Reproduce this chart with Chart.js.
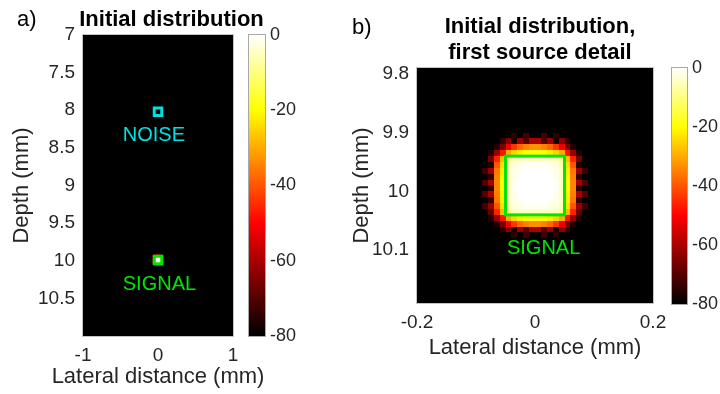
<!DOCTYPE html>
<html><head><meta charset="utf-8">
<script src="https://cdn.jsdelivr.net/npm/chart.js@4/dist/chart.umd.min.js"></script>
<style>
html,body{margin:0;padding:0;background:#fff;width:720px;height:394px;overflow:hidden;position:relative;font-family:"Liberation Sans",Arial,sans-serif;}
canvas{position:absolute;top:0;}
.t{position:absolute;color:#000;font-weight:bold;font-size:22px;line-height:26px;text-align:center;white-space:nowrap;}
.l{position:absolute;color:#000;font-size:22px;line-height:26px;white-space:nowrap;}
</style></head><body>
<canvas id="ca" width="300" height="394" style="left:0px"></canvas>
<canvas id="cba" width="80" height="394" style="left:240px"></canvas>
<canvas id="cb" width="420" height="394" style="left:300px"></canvas>
<canvas id="cbb" width="60" height="394" style="left:660px"></canvas>
<div class="l" style="left:17px;top:6px">a)</div>
<div class="t" style="left:0px;width:343px;top:6px">Initial distribution</div>
<div class="l" style="left:352px;top:14px">b)</div>
<div class="t" style="left:360px;width:360px;top:13px">Initial distribution,<br>first source detail</div>
<script>
// ---------------- data ----------------
const floorDb = -80;           // colour-scale floor (background value)
const topDb = 0;
const cellSize = 0.01;         // mm
const patchX = [-0.095,-0.085,-0.075,-0.065,-0.055,-0.045,-0.035,-0.025,-0.015,-0.005,0.005,0.015,0.025,0.035,0.045,0.055,0.065,0.075,0.085,0.095];
const patchY = [9.895,9.905,9.915,9.925,9.935,9.945,9.955,9.965,9.975,9.985,9.995,10.005,10.015,10.025,10.035,10.045,10.055,10.065,10.075,10.085];
const patchDb = [
 [-80,-80,-80,-80,-80,-80,-80,-80,-80,-80,-80,-80,-80,-80,-80,-80,-80,-80,-80,-80],
 [-80,-80,-80,-80,-80,-80,-74,-80,-72,-80,-80,-72,-80,-74,-80,-80,-80,-80,-80,-80],
 [-80,-80,-80,-80,-74,-64,-78,-62,-70,-60,-60,-70,-62,-78,-64,-74,-80,-80,-80,-80],
 [-80,-80,-80,-76,-66,-52,-44,-38,-35,-33,-33,-35,-38,-44,-52,-66,-76,-80,-80,-80],
 [-80,-80,-76,-62,-48,-30,-25,-22,-20,-19,-19,-20,-22,-25,-30,-48,-62,-76,-80,-80],
 [-80,-80,-66,-46,-28,-9,-6,-5,-5,-5,-5,-5,-5,-6,-9,-28,-46,-66,-80,-80],
 [-80,-80,-76,-40,-24,-6,-3,-2,-1,-1,-1,-1,-2,-3,-6,-24,-40,-76,-80,-80],
 [-80,-72,-62,-36,-22,-5,-2,-1,0,0,0,0,-1,-2,-5,-22,-36,-62,-72,-80],
 [-80,-80,-74,-35,-21,-5,-2,0,0,0,0,0,0,-2,-5,-21,-35,-74,-80,-80],
 [-80,-70,-60,-34,-20,-5,-1,0,0,0,0,0,0,-1,-5,-20,-34,-60,-70,-80],
 [-80,-80,-74,-34,-20,-5,-1,0,0,0,0,0,0,-1,-5,-20,-34,-74,-80,-80],
 [-80,-70,-60,-35,-21,-5,-2,0,0,0,0,0,0,-2,-5,-21,-35,-60,-70,-80],
 [-80,-80,-74,-36,-22,-5,-2,-1,0,0,0,0,-1,-2,-5,-22,-36,-74,-80,-80],
 [-80,-72,-62,-40,-24,-6,-3,-2,-1,-1,-1,-1,-2,-3,-6,-24,-40,-62,-72,-80],
 [-80,-80,-68,-46,-28,-9,-6,-5,-5,-5,-5,-5,-5,-6,-9,-28,-46,-68,-80,-80],
 [-80,-80,-76,-62,-48,-30,-25,-22,-20,-19,-19,-20,-22,-25,-30,-48,-62,-76,-80,-80],
 [-80,-80,-80,-76,-66,-52,-44,-38,-35,-33,-33,-35,-38,-44,-52,-66,-76,-80,-80,-80],
 [-80,-80,-80,-80,-74,-64,-78,-62,-70,-60,-60,-70,-62,-78,-64,-74,-80,-80,-80,-80],
 [-80,-80,-80,-80,-80,-80,-74,-80,-72,-80,-80,-72,-80,-74,-80,-80,-80,-80,-80,-80],
 [-80,-80,-80,-80,-80,-80,-80,-80,-80,-80,-80,-80,-80,-80,-80,-80,-80,-80,-80,-80]
];
const signalBox = [-0.05, 0.05, 9.94, 10.04];   // xmin, xmax, ymin, ymax (mm)
const noiseBox  = [-0.05, 0.05, 7.97, 8.07];
const labelTexts = ['NOISE', 'SIGNAL'];
const labelPosA = [[-0.47, 8.33], [-0.47, 10.31]];
const labelPosB = [[-0.0475, 10.098]];
const xRangeA = [-1, 1], yRangeA = [7, 11];
const xRangeB = [-0.2, 0.2], yRangeB = [9.79, 10.19];
const xTicksA = [-1, 0, 1];
const yTicksA = [7, 7.5, 8, 8.5, 9, 9.5, 10, 10.5];
const xTicksB = [-0.2, 0, 0.2];
const yTicksB = [9.8, 9.9, 10, 10.1];
const cbTicks = [0, -20, -40, -60, -80];
const xTitle = 'Lateral distance (mm)';
const yTitle = 'Depth (mm)';

// ---------------- styling / helpers ----------------
const FAM = '"Liberation Sans", Arial, Helvetica, sans-serif';
Chart.defaults.font.family = FAM;
const TXT = '#262626';
const GREEN = '#00e600', CYAN = '#00e0e0';

function hot(db){
  let t = (db - floorDb) / (topDb - floorDb);
  t = Math.max(0, Math.min(1, t));
  const r = Math.min(1, t / 0.375);
  const g = Math.max(0, Math.min(1, (t - 0.375) / 0.375));
  const b = Math.max(0, Math.min(1, (t - 0.75) / 0.25));
  return 'rgb(' + Math.round(r*255) + ',' + Math.round(g*255) + ',' + Math.round(b*255) + ')';
}

const cells = [];
patchY.forEach((y, j) => patchX.forEach((x, i) => cells.push({x: x, y: y, v: patchDb[j][i]})));

const heatPlugin = {
  id: 'heat',
  beforeDatasetsDraw(chart, args, opts){
    const {ctx, chartArea: a, scales: {x, y}} = chart;
    ctx.save();
    ctx.beginPath(); ctx.rect(a.left, a.top, a.width, a.height); ctx.clip();
    ctx.fillStyle = hot(floorDb);
    ctx.fillRect(a.left, a.top, a.width, a.height);
    const h = cellSize / 2;
    for (const c of chart.data.datasets[0].data){
      const x0 = Math.round(x.getPixelForValue(c.x - h)), x1 = Math.round(x.getPixelForValue(c.x + h));
      const ya = Math.round(y.getPixelForValue(c.y - h)), yb = Math.round(y.getPixelForValue(c.y + h));
      if (x1 > x0 && ya !== yb){
        ctx.fillStyle = hot(c.v);
        ctx.fillRect(x0, Math.min(ya, yb), x1 - x0, Math.abs(yb - ya));
      }
    }
    for (const b of opts.boxes){
      const x0 = x.getPixelForValue(b.box[0]), x1 = x.getPixelForValue(b.box[1]);
      const y0 = y.getPixelForValue(b.box[2]), y1 = y.getPixelForValue(b.box[3]);
      ctx.strokeStyle = b.color; ctx.lineWidth = 3;
      ctx.strokeRect(x0, Math.min(y0, y1), x1 - x0, Math.abs(y1 - y0));
    }
    ctx.font = '20px ' + FAM;
    ctx.textAlign = 'left'; ctx.textBaseline = 'middle';
    for (const l of opts.labels){
      ctx.fillStyle = l.color;
      ctx.fillText(l.text, x.getPixelForValue(l.pos[0]), y.getPixelForValue(l.pos[1]));
    }
    ctx.restore();
    ctx.save();
    ctx.strokeStyle = '#c4c4c4'; ctx.lineWidth = 1;
    ctx.strokeRect(a.left - 0.5, a.top - 0.5, a.width + 1, a.height + 1);
    ctx.restore();
  },
  afterDraw(chart, args, opts){
    // x-axis title, centred under the plot (drawn without Chart.js' max-width squeeze)
    const {ctx, chartArea: a} = chart;
    ctx.save();
    ctx.font = '22px ' + FAM; ctx.fillStyle = TXT;
    ctx.textAlign = 'center'; ctx.textBaseline = 'middle';
    ctx.fillText(opts.xTitle, (a.left + a.right) / 2, a.bottom + opts.xTitleGap);
    ctx.restore();
  }
};

function mainChart(id, xr, yr, xt, yt, layout, boxes, labels){
  return new Chart(document.getElementById(id), {
    type: 'scatter',
    data: { datasets: [{ data: cells, pointRadius: 0, showLine: false }] },
    options: {
      responsive: false, animation: false, devicePixelRatio: 1, events: [],
      layout: { padding: { left: 0, top: layout.top, right: layout.right, bottom: 0 } },
      plugins: { legend: {display: false}, tooltip: {enabled: false},
                 heat: { boxes: boxes, labels: labels, xTitle: xTitle, xTitleGap: layout.xTitleGap } },
      scales: {
        x: {
          type: 'linear', min: xr[0], max: xr[1],
          afterBuildTicks: s => { s.ticks = xt.map(v => ({value: v})); },
          afterFit: s => { s.height = layout.xH; },
          grid: {display: false, drawTicks: false}, border: {display: false},
          ticks: { padding: 8, color: TXT, font: {size: 19}, maxRotation: 0, autoSkip: false, callback: v => String(v) },
          title: { display: false }
        },
        y: {
          type: 'linear', reverse: true, min: yr[0], max: yr[1],
          afterBuildTicks: s => { s.ticks = yt.map(v => ({value: v})); },
          afterFit: s => { s.width = layout.yW; },
          grid: {display: false, drawTicks: false}, border: {display: false},
          ticks: { padding: 8, color: TXT, font: {size: 19}, autoSkip: false, callback: v => String(v) },
          title: { display: true, text: yTitle, color: TXT, font: {size: 22}, padding: {top: layout.yTitlePad, bottom: 0} }
        }
      }
    },
    plugins: [heatPlugin]
  });
}

const cbBorder = {
  id: 'cbBorder',
  afterDatasetsDraw(chart){
    const {ctx, chartArea: a} = chart;
    ctx.save(); ctx.strokeStyle = '#a8a8a8'; ctx.lineWidth = 1;
    ctx.strokeRect(a.left - 0.5, a.top - 0.5, a.width + 1, a.height + 1);
    ctx.restore();
  }
};

function cbChart(id, padLeft, padTop, padBottom, axisW){
  return new Chart(document.getElementById(id), {
    type: 'bar',
    data: { labels: ['cb'], datasets: [{
      data: [[floorDb, topDb]],
      barPercentage: 1, categoryPercentage: 1, borderWidth: 0, borderSkipped: false,
      backgroundColor: (c) => {
        const a = c.chart.chartArea; if (!a) return hot(floorDb);
        const g = c.chart.ctx.createLinearGradient(0, a.bottom, 0, a.top);
        [0, 0.375, 0.75, 1].forEach(t => g.addColorStop(t, hot(floorDb + t * (topDb - floorDb))));
        return g;
      }
    }]},
    options: {
      responsive: false, animation: false, devicePixelRatio: 1, events: [],
      layout: { padding: { left: padLeft, top: padTop, bottom: padBottom, right: 0 } },
      plugins: { legend: {display: false}, tooltip: {enabled: false} },
      scales: {
        x: { display: false },
        y: {
          position: 'right', min: floorDb, max: topDb,
          afterBuildTicks: s => { s.ticks = cbTicks.map(v => ({value: v})); },
          afterFit: s => { s.width = axisW; },
          grid: {display: false, drawTicks: false}, border: {display: false},
          ticks: { padding: 5, color: TXT, font: {size: 18}, callback: v => String(v) }
        }
      }
    },
    plugins: [cbBorder]
  });
}

mainChart('ca', xRangeA, yRangeA, xTicksA, yTicksA,
  {top: 35, right: 67, xH: 58, yW: 83, xTitleGap: 41, yTitlePad: 9},
  [{box: noiseBox, color: CYAN}, {box: signalBox, color: GREEN}],
  [{text: labelTexts[0], pos: labelPosA[0], color: CYAN}, {text: labelTexts[1], pos: labelPosA[1], color: GREEN}]);
cbChart('cba', 9, 35, 58, 55);
mainChart('cb', xRangeB, yRangeB, xTicksB, yTicksB,
  {top: 68, right: 67, xH: 91, yW: 117, xTitleGap: 45, yTitlePad: 49},
  [{box: signalBox, color: GREEN}],
  [{text: labelTexts[1], pos: labelPosB[0], color: GREEN}]);
cbChart('cbb', 12, 68, 90, 33);
</script>
</body></html>
